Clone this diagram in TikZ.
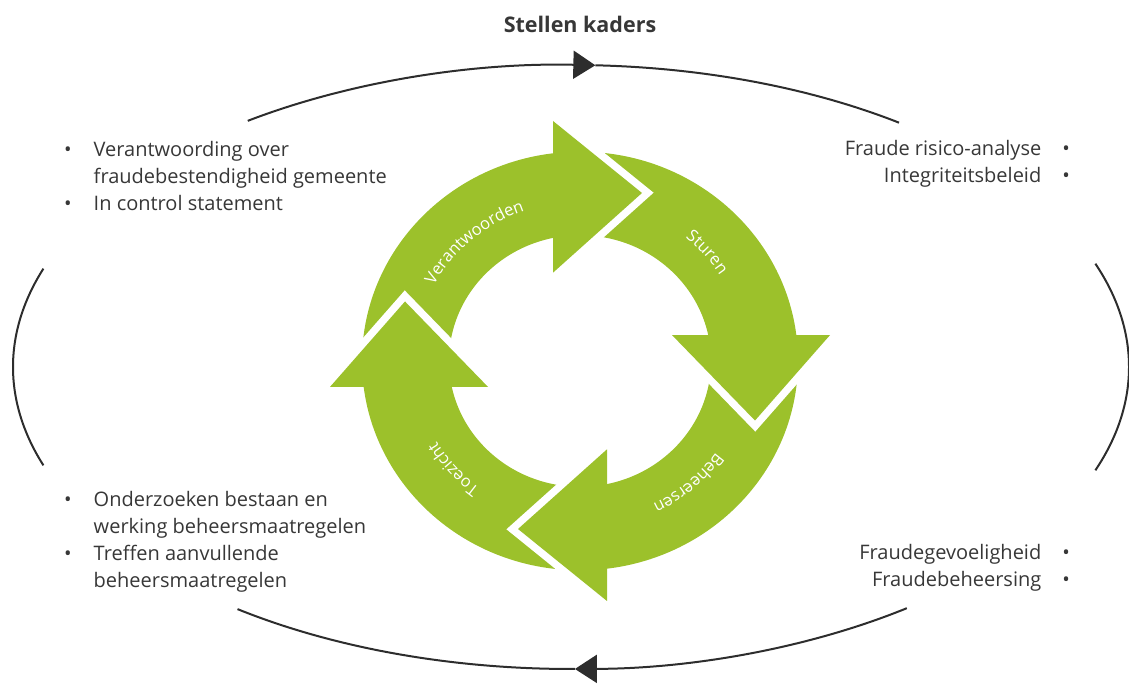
\documentclass[tikz,border=0pt]{standalone}
\usepackage{fontspec}
\setmainfont{Open Sans}
\usetikzlibrary{arrows.meta, decorations.text}
\definecolor{cyclegreen}{RGB}{156,193,43}
\definecolor{framegray}{RGB}{45,45,45}
\definecolor{listgray}{RGB}{55,55,55}

\tikzset{
  listtext/.style={font=\fontsize{20}{27}\selectfont, text=listgray, inner sep=0pt},
  frame/.style={framegray, line width=2pt},
  gap/.style={white, line width=15pt, line join=miter},
  ringlabel/.style={decorate, decoration={text along path, text align=center, text color=white}},
}
\newcommand{\ringfont}{\fontsize{16.5}{20}\selectfont}

\begin{document}
\begin{tikzpicture}[x=1pt, y=1pt]
\useasboundingbox (0,0) rectangle (1129,684);

% Title
\node[font=\fontsize{21.5}{26}\selectfont\bfseries, text=listgray, anchor=base] (title) at (580,651) {Stellen kaders};

% Outer loop
\coordinate (ell) at (571,317);
\draw[frame, -{Triangle[length=22pt,width=28pt]}] (ell) ++(125.4:558 and 302) arc[start angle=125.4, end angle=87.5, x radius=558, y radius=302];
\draw[frame] (ell) ++(87.5:558 and 302) arc[start angle=87.5, end angle=54, x radius=558, y radius=302];
\draw[frame] (ell) ++(20:558 and 302) arc[start angle=20, end angle=-20, x radius=558, y radius=302];
\draw[frame, -{Triangle[length=22pt,width=28pt]}] (ell) ++(-53:558 and 302) arc[start angle=-53, end angle=-89.6, x radius=558, y radius=302];
\draw[frame] (ell) ++(-89.6:558 and 302) arc[start angle=-89.6, end angle=-126.7, x radius=558, y radius=302];
\draw[frame] (ell) ++(161:558 and 302) arc[start angle=161, end angle=199, x radius=558, y radius=302];

% Green cycle
\begin{scope}[shift={(580,323)}, yscale=0.96]
  \fill[cyclegreen, even odd rule] (0,0) circle[radius=218] (0,0) circle[radius=131];
  \foreach \k in {0,...,3} {
    \begin{scope}[rotate=-90*\k]
      \draw[gap] (-27,250) -- (62,175) -- (-27,92);
      \fill[cyclegreen] (-27,250) -- (62,175) -- (-27,92) -- cycle;
    \end{scope}
  }
  \path[ringlabel, decoration={text={|\ringfont|Verantwoorden}}] (176:166) arc[start angle=176, end angle=86, radius=166];
  \path[ringlabel, decoration={text={|\ringfont|Sturen}}] (86:166) arc[start angle=86, end angle=-4, radius=166];
  \path[ringlabel, decoration={text={|\ringfont|Beheersen}}] (-4:166) arc[start angle=-4, end angle=-94, radius=166];
  \path[ringlabel, decoration={text={|\ringfont|Toezicht}}] (-94:166) arc[start angle=-94, end angle=-184, radius=166];
\end{scope}

% Lists
\node[listtext, anchor=base west] (verantw) at (64,527) {\begin{tabular}[t]{@{}l@{\hspace{22pt}}l@{}}
  \textbullet & Verantwoording over\\
   & fraudebestendigheid gemeente\\
  \textbullet & In control statement
\end{tabular}};
\node[listtext, anchor=base west] (toezicht) at (64,177) {\begin{tabular}[t]{@{}l@{\hspace{22pt}}l@{}}
  \textbullet & Onderzoeken bestaan en\\
   & werking beheersmaatregelen\\
  \textbullet & Treffen aanvullende\\
   & beheersmaatregelen
\end{tabular}};
\node[listtext, anchor=base east] (sturen) at (1070,528) {\begin{tabular}[t]{@{}r@{\hspace{21pt}}l@{}}
  Fraude risico-analyse & \textbullet\\
  Integriteitsbeleid & \textbullet
\end{tabular}};
\node[listtext, anchor=base east] (beheersen) at (1070,124) {\begin{tabular}[t]{@{}r@{\hspace{21pt}}l@{}}
  Fraudegevoeligheid & \textbullet\\
  Fraudebeheersing & \textbullet
\end{tabular}};
\end{tikzpicture}
\end{document}
